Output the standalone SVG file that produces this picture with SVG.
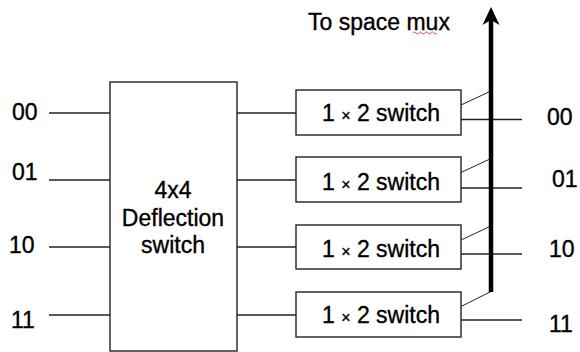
<svg xmlns="http://www.w3.org/2000/svg" width="580" height="352" viewBox="0 0 580 352">
<style>
text{font-family:"Liberation Sans",Arial,sans-serif;font-size:23px;fill:#000;stroke:#000;stroke-width:0.35}
.box{fill:#fff;stroke:#222;stroke-width:1.4}
.ln{stroke:#222;stroke-width:1.3;fill:none}
.dg{stroke:#222;stroke-width:1;fill:none}
</style>
<rect width="580" height="352" fill="#fff"/>
<g id="labels-in">
<text x="12" y="120">00</text>
<text x="12" y="180">01</text>
<text x="9" y="253">10</text>
<text x="11" y="328">11</text>
</g>
<g id="labels-out">
<text x="547" y="125">00</text>
<text x="552" y="187">01</text>
<text x="549" y="257">10</text>
<text x="549" y="332">11</text>
</g>
<g id="connectors">
<line class="ln" x1="49" y1="113" x2="110" y2="113"/>
<line class="ln" x1="49" y1="180" x2="110" y2="180"/>
<line class="ln" x1="49" y1="247" x2="110" y2="247"/>
<line class="ln" x1="49" y1="315" x2="110" y2="315"/>
<line class="ln" x1="237" y1="113" x2="296" y2="113"/>
<line class="ln" x1="237" y1="180" x2="296" y2="180"/>
<line class="ln" x1="237" y1="247" x2="296" y2="247"/>
<line class="ln" x1="237" y1="315" x2="296" y2="315"/>
<line class="ln" x1="461" y1="119.5" x2="522" y2="119.5"/>
<line class="ln" x1="461" y1="188" x2="522" y2="188"/>
<line class="ln" x1="461" y1="254" x2="522" y2="254"/>
<line class="ln" x1="461" y1="320" x2="522" y2="320"/>
<line class="dg" x1="461" y1="105" x2="491" y2="91"/>
<line class="dg" x1="461" y1="172.5" x2="491" y2="158.5"/>
<line class="dg" x1="461" y1="240" x2="491" y2="226"/>
<line class="dg" x1="461" y1="306.5" x2="491" y2="291.5"/>
<line x1="491" y1="292" x2="491" y2="18" stroke="#000" stroke-width="4.5"/>
<polygon points="491,7 499.5,25 491,20 482.5,25" fill="#000"/>
</g>
<g id="deflection">
<rect class="box" x="110" y="82" width="127" height="269"/>
<text x="173" y="198" text-anchor="middle">4x4</text>
<text x="173" y="226" text-anchor="middle">Deflection</text>
<text x="173" y="253" text-anchor="middle">switch</text>
</g>
<g id="sw1">
<rect class="box" x="296" y="90" width="165" height="45"/>
<text x="381" y="121" text-anchor="middle">1 <tspan font-size="16">×</tspan> 2 switch</text>
</g>
<g id="sw2">
<rect class="box" x="296" y="157" width="165" height="45"/>
<text x="381" y="190" text-anchor="middle">1 <tspan font-size="16">×</tspan> 2 switch</text>
</g>
<g id="sw3">
<rect class="box" x="296" y="225" width="165" height="44"/>
<text x="381" y="257" text-anchor="middle">1 <tspan font-size="16">×</tspan> 2 switch</text>
</g>
<g id="sw4">
<rect class="box" x="296" y="292" width="165" height="45"/>
<text x="381" y="323" text-anchor="middle">1 <tspan font-size="16">×</tspan> 2 switch</text>
</g>
<g id="title">
<text x="308" y="30">To space mux</text>
<path d="M413,33 q1.5,-2 3,0 t3,0 t3,0 t3,0 t3,0 t3,0 t3,0 t3,0" fill="none" stroke="#e02020" stroke-width="0.8"/>
</g>
</svg>
